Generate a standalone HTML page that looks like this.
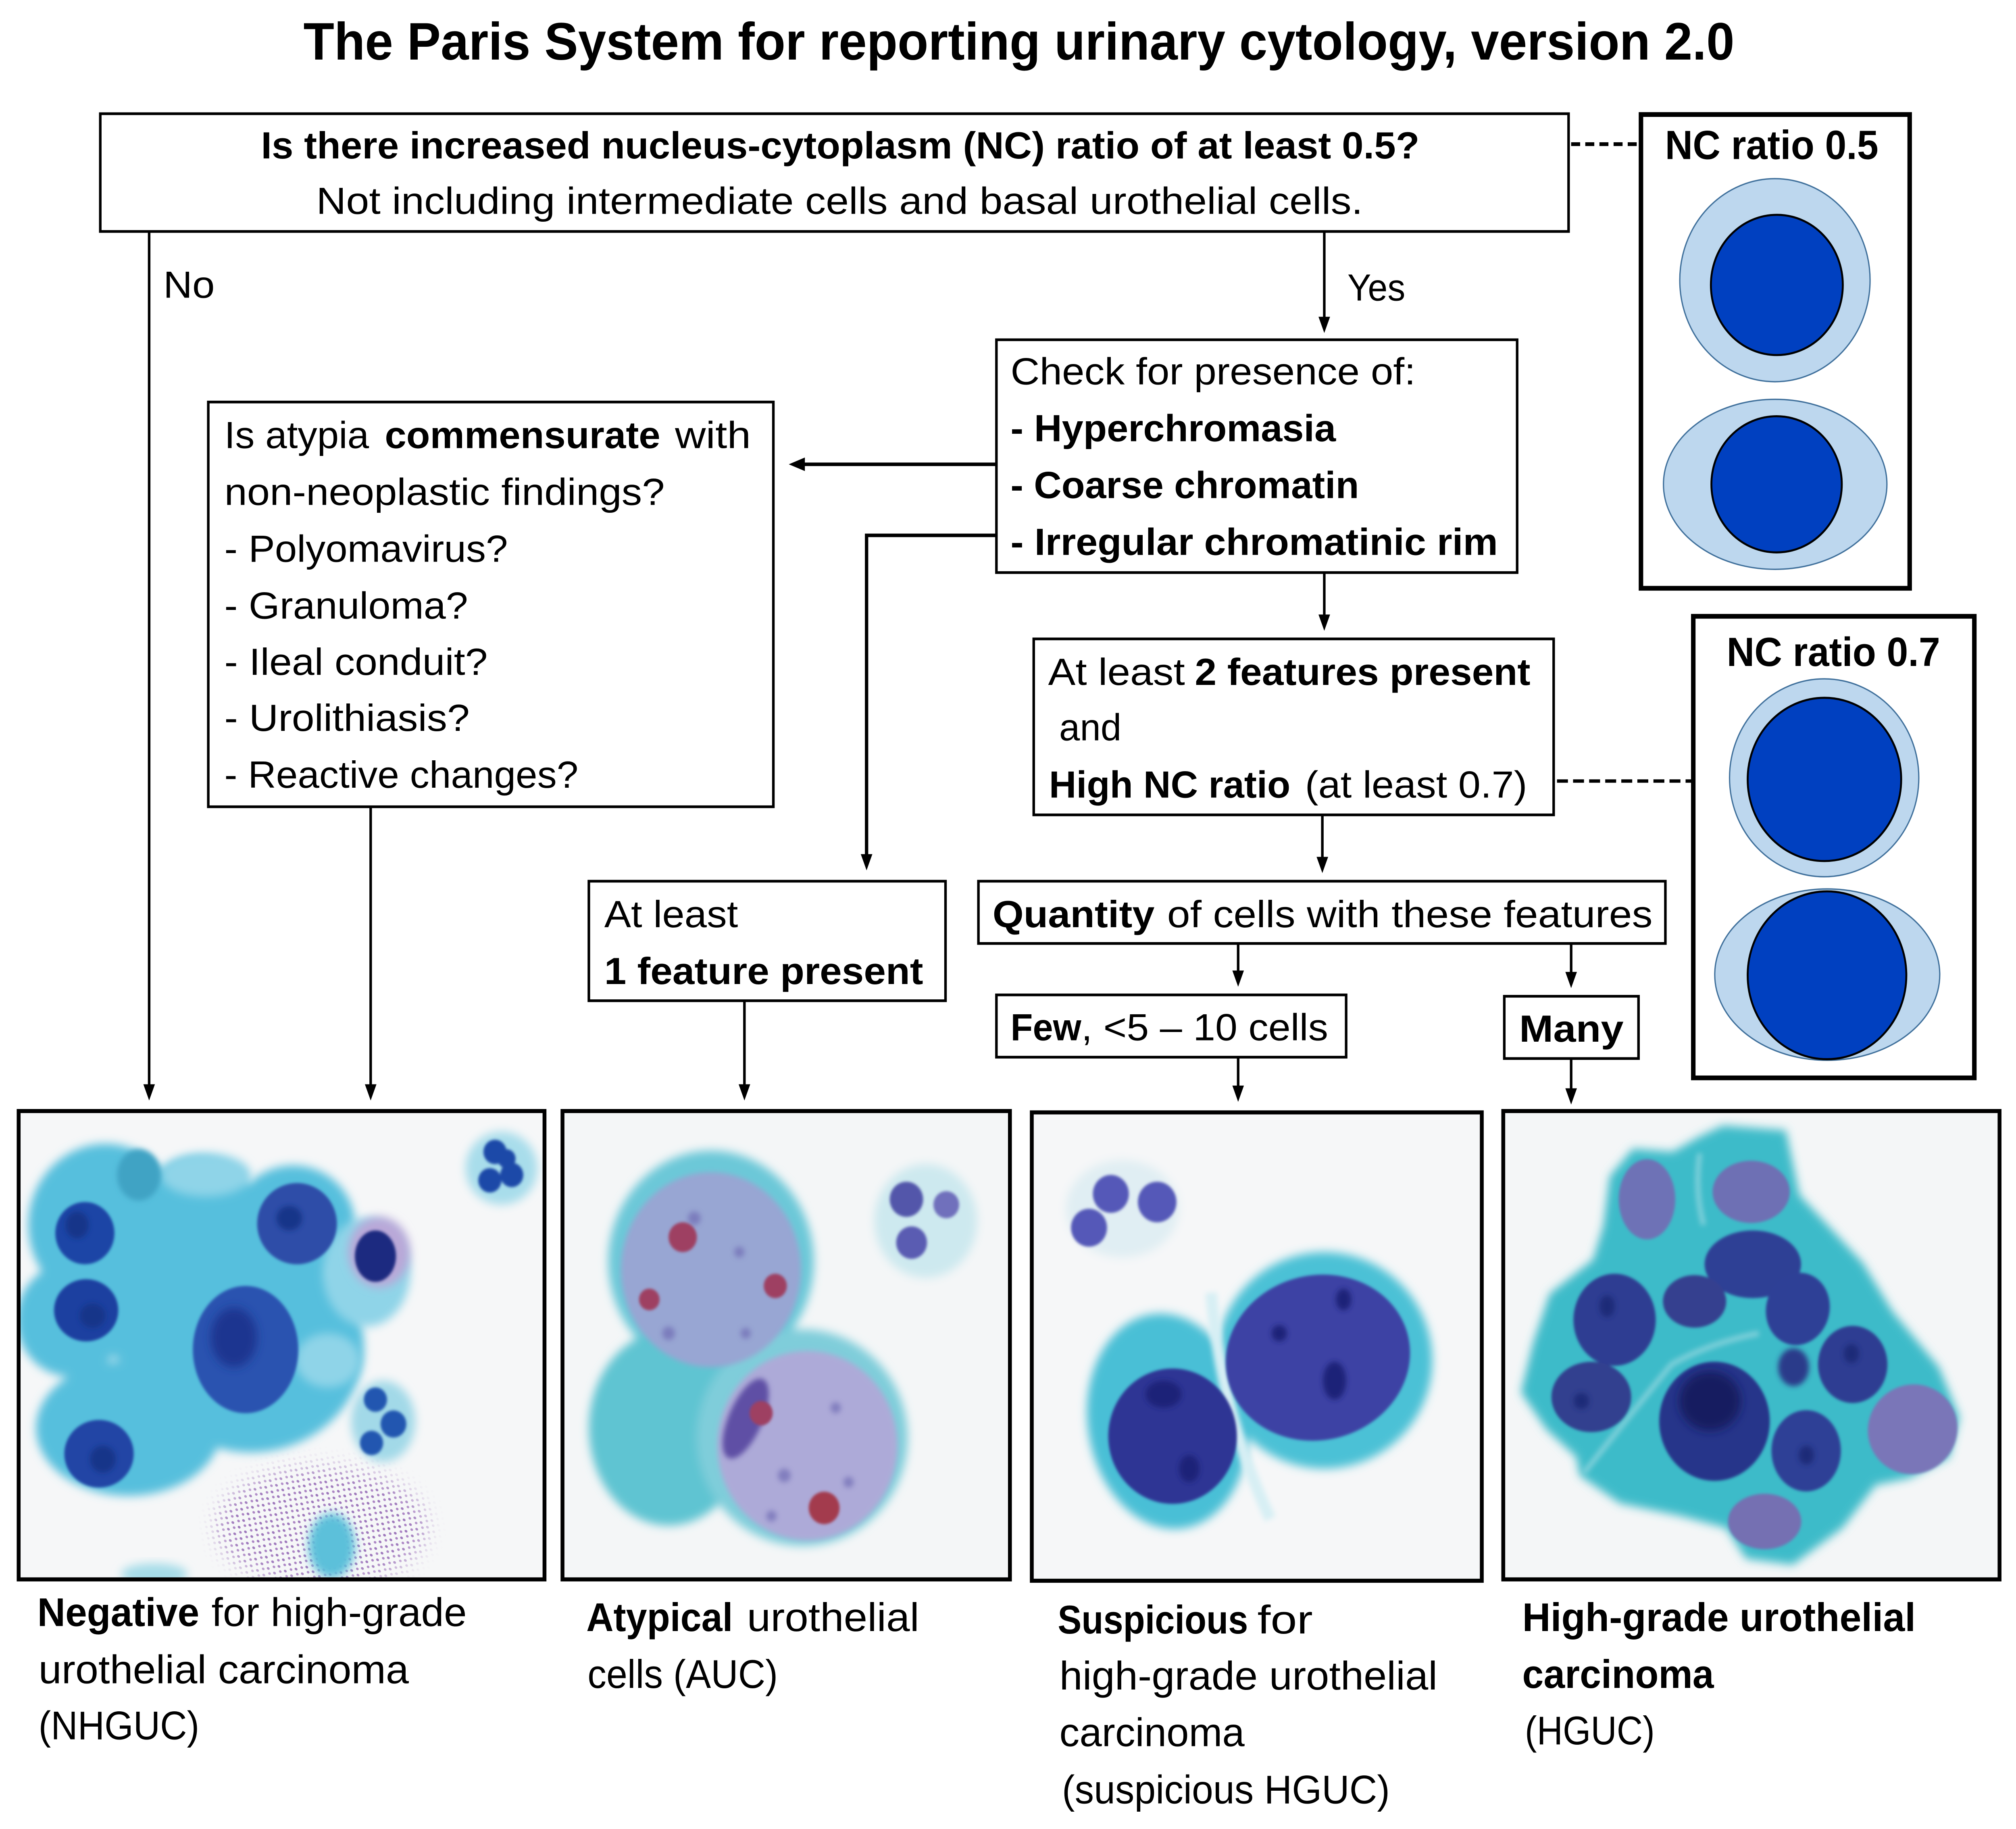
<!DOCTYPE html>
<html><head><meta charset="utf-8">
<style>html,body{margin:0;padding:0;background:#fff;width:100%;height:100%;overflow:hidden;}svg{display:block;width:100vw;height:100vh;}</style>
</head>
<body>
<svg xmlns="http://www.w3.org/2000/svg" viewBox="0 0 1568 1351.2" preserveAspectRatio="none" font-family="'Liberation Sans', Arial, sans-serif">
<defs>
<filter id="b1" x="-30%" y="-30%" width="160%" height="160%"><feGaussianBlur stdDeviation="1"/></filter>
<filter id="b2" x="-30%" y="-30%" width="160%" height="160%"><feGaussianBlur stdDeviation="2"/></filter>
<filter id="b3" x="-30%" y="-30%" width="160%" height="160%"><feGaussianBlur stdDeviation="3.5"/></filter>
<filter id="b6" x="-30%" y="-30%" width="160%" height="160%"><feGaussianBlur stdDeviation="7"/></filter>
<clipPath id="c1"><rect x="14.5" y="820.8" width="409" height="346"/></clipPath>
<clipPath id="c2"><rect x="437.5" y="820.8" width="348" height="346"/></clipPath>
<clipPath id="c3"><rect x="802.5" y="821.8" width="350" height="346"/></clipPath>
<clipPath id="c4"><rect x="1169.2" y="820.8" width="386" height="346"/></clipPath>
<pattern id="bac" width="6" height="6" patternUnits="userSpaceOnUse" patternTransform="rotate(35)">
 <ellipse cx="1.5" cy="1.5" rx="1.2" ry="0.9" fill="#8A5BAE"/>
 <ellipse cx="4.5" cy="4" rx="1.1" ry="0.9" fill="#9A6AB8"/>
</pattern>
<mask id="bm" maskUnits="userSpaceOnUse" x="140" y="1050" width="230" height="130">
 <rect x="140" y="1050" width="230" height="130" fill="#000"/>
 <ellipse cx="250" cy="1128" rx="82" ry="44" fill="#fff" filter="url(#b6)"/>
</mask>
</defs>

<rect x="0" y="0" width="1568" height="1351.2" fill="#fff"/>

<!-- Title -->
<text x="236" y="44" font-size="39" font-weight="bold" textLength="1113" lengthAdjust="spacingAndGlyphs">The Paris System for reporting urinary cytology, version 2.0</text>

<!-- Box 1 -->
<rect x="78" y="84" width="1142" height="87" fill="#fff" stroke="#000" stroke-width="2"/>
<text x="203" y="117" font-size="28" font-weight="bold" textLength="901" lengthAdjust="spacingAndGlyphs">Is there increased nucleus-cytoplasm (NC) ratio of at least 0.5?</text>
<text x="246" y="158" font-size="28" textLength="814" lengthAdjust="spacingAndGlyphs">Not including intermediate cells and basal urothelial cells.</text>

<!-- dashed to NC 0.5 -->
<line x1="1222" y1="106.5" x2="1275" y2="106.5" stroke="#000" stroke-width="2.8" stroke-dasharray="7,4"/>

<!-- NC ratio 0.5 box -->
<rect x="1276.3" y="84.6" width="209" height="350" fill="#fff" stroke="#000" stroke-width="3.5"/>
<text x="1295" y="117.5" font-size="30" font-weight="bold" textLength="166" lengthAdjust="spacingAndGlyphs">NC ratio 0.5</text>
<ellipse cx="1380.5" cy="207" rx="74" ry="75" fill="#BDD7EE" stroke="#41719C" stroke-width="1"/>
<ellipse cx="1382" cy="210.5" rx="51.3" ry="51.8" fill="#0040C0" stroke="#000" stroke-width="1.5"/>
<ellipse cx="1380.7" cy="357.8" rx="86.9" ry="62.8" fill="#BDD7EE" stroke="#41719C" stroke-width="1"/>
<ellipse cx="1381.8" cy="357.8" rx="50.7" ry="50.3" fill="#0040C0" stroke="#000" stroke-width="1.5"/>

<!-- NC ratio 0.7 box -->
<rect x="1317" y="455.3" width="218.6" height="341" fill="#fff" stroke="#000" stroke-width="3.5"/>
<text x="1343" y="492" font-size="30" font-weight="bold" textLength="166" lengthAdjust="spacingAndGlyphs">NC ratio 0.7</text>
<ellipse cx="1418.8" cy="574.6" rx="73.6" ry="73.1" fill="#BDD7EE" stroke="#41719C" stroke-width="1"/>
<ellipse cx="1419" cy="575.8" rx="59.7" ry="60.3" fill="#0040C0" stroke="#000" stroke-width="1.5"/>
<ellipse cx="1421.2" cy="720" rx="87.5" ry="63.3" fill="#BDD7EE" stroke="#41719C" stroke-width="1"/>
<ellipse cx="1421" cy="720.5" rx="61.7" ry="62" fill="#0040C0" stroke="#000" stroke-width="1.5"/>

<!-- dashed to NC 0.7 -->
<line x1="1211" y1="577" x2="1316" y2="577" stroke="#000" stroke-width="2.5" stroke-dasharray="8.5,4"/>

<!-- No / Yes labels -->
<text x="127" y="220" font-size="28" textLength="40" lengthAdjust="spacingAndGlyphs">No</text>
<text x="1048" y="222" font-size="28" textLength="45" lengthAdjust="spacingAndGlyphs">Yes</text>

<!-- Check box -->
<rect x="775" y="251" width="405" height="172" fill="#fff" stroke="#000" stroke-width="2"/>
<text x="786" y="284" font-size="28" textLength="315" lengthAdjust="spacingAndGlyphs">Check for presence of:</text>
<text x="786" y="326" font-size="28" font-weight="bold" textLength="253" lengthAdjust="spacingAndGlyphs">- Hyperchromasia</text>
<text x="786" y="368" font-size="28" font-weight="bold" textLength="271" lengthAdjust="spacingAndGlyphs">- Coarse chromatin</text>
<text x="786" y="410" font-size="28" font-weight="bold" textLength="379" lengthAdjust="spacingAndGlyphs">- Irregular chromatinic rim</text>

<!-- Atypia box -->
<rect x="162" y="297" width="439.5" height="299" fill="#fff" stroke="#000" stroke-width="2"/>
<text x="174.5" y="331" font-size="28" textLength="112.5" lengthAdjust="spacingAndGlyphs">Is atypia</text>
<text x="299.3" y="331" font-size="28" font-weight="bold" textLength="214.3" lengthAdjust="spacingAndGlyphs">commensurate</text>
<text x="525" y="331" font-size="28" textLength="59" lengthAdjust="spacingAndGlyphs">with</text>
<text x="174.5" y="373" font-size="28" textLength="342.5" lengthAdjust="spacingAndGlyphs">non-neoplastic findings?</text>
<text x="174.5" y="415" font-size="28" textLength="220.5" lengthAdjust="spacingAndGlyphs">- Polyomavirus?</text>
<text x="174.5" y="457" font-size="28" textLength="189.5" lengthAdjust="spacingAndGlyphs">- Granuloma?</text>
<text x="174.5" y="498.5" font-size="28" textLength="204.8" lengthAdjust="spacingAndGlyphs">- Ileal conduit?</text>
<text x="174.5" y="540" font-size="28" textLength="190.8" lengthAdjust="spacingAndGlyphs">- Urolithiasis?</text>
<text x="174.5" y="582" font-size="28" textLength="275.3" lengthAdjust="spacingAndGlyphs">- Reactive changes?</text>

<!-- 2 features box -->
<rect x="804" y="472" width="404.4" height="130" fill="#fff" stroke="#000" stroke-width="2"/>
<text x="815.2" y="506" font-size="28" textLength="106.4" lengthAdjust="spacingAndGlyphs">At least</text>
<text x="929.3" y="506" font-size="28" font-weight="bold" textLength="261" lengthAdjust="spacingAndGlyphs">2 features present</text>
<text x="823.8" y="547" font-size="28" textLength="48.4" lengthAdjust="spacingAndGlyphs">and</text>
<text x="815.9" y="589.3" font-size="28" font-weight="bold" textLength="187.7" lengthAdjust="spacingAndGlyphs">High NC ratio</text>
<text x="1015" y="589.3" font-size="28" textLength="172.8" lengthAdjust="spacingAndGlyphs">(at least 0.7)</text>

<!-- At least 1 feature box -->
<rect x="458" y="651" width="277.4" height="88.3" fill="#fff" stroke="#000" stroke-width="2"/>
<text x="470" y="685" font-size="28" textLength="104" lengthAdjust="spacingAndGlyphs">At least</text>
<text x="470" y="727" font-size="28" font-weight="bold" textLength="248" lengthAdjust="spacingAndGlyphs">1 feature present</text>

<!-- Quantity box -->
<rect x="761" y="651" width="534.3" height="46" fill="#fff" stroke="#000" stroke-width="2"/>
<text x="772" y="685" font-size="28" font-weight="bold" textLength="126" lengthAdjust="spacingAndGlyphs">Quantity</text>
<text x="907.8" y="685" font-size="28" textLength="377.5" lengthAdjust="spacingAndGlyphs">of cells with these features</text>

<!-- Few box -->
<rect x="775" y="735" width="272" height="46" fill="#fff" stroke="#000" stroke-width="2"/>
<text x="786" y="768.5" font-size="28" font-weight="bold" textLength="55" lengthAdjust="spacingAndGlyphs">Few</text>
<text x="841" y="768.5" font-size="28" textLength="192" lengthAdjust="spacingAndGlyphs">, &lt;5 – 10 cells</text>

<!-- Many box -->
<rect x="1170" y="736" width="104.4" height="46" fill="#fff" stroke="#000" stroke-width="2"/>
<text x="1181.6" y="769.6" font-size="28" font-weight="bold" textLength="81.2" lengthAdjust="spacingAndGlyphs">Many</text>

<!-- Connectors -->
<g stroke="#000" stroke-width="2" fill="none">
 <line x1="116" y1="171" x2="116" y2="803"/>
 <line x1="288.3" y1="596" x2="288.3" y2="803"/>
 <line x1="579" y1="739" x2="579" y2="803"/>
 <line x1="963" y1="781" x2="963" y2="804"/>
 <line x1="1222" y1="782" x2="1222" y2="806"/>
 <line x1="1030" y1="171" x2="1030" y2="236"/>
 <line x1="1030" y1="423" x2="1030" y2="456"/>
 <line x1="1028.5" y1="602" x2="1028.5" y2="635"/>
 <line x1="963" y1="697" x2="963" y2="719"/>
 <line x1="1222" y1="697" x2="1222" y2="720"/>
 <line x1="775" y1="343" x2="624" y2="343" stroke-width="2.6"/>
 <polyline points="775,395.5 674,395.5 674,633" stroke-width="2.6"/>
</g>
<g fill="#000">
 <polygon points="111.5,801 120.5,801 116,813"/>
 <polygon points="283.8,801 292.8,801 288.3,813"/>
 <polygon points="574.5,801 583.5,801 579,813"/>
 <polygon points="958.5,802 967.5,802 963,814"/>
 <polygon points="1217.5,804 1226.5,804 1222,816"/>
 <polygon points="1025.5,234 1034.5,234 1030,246"/>
 <polygon points="1025.5,454 1034.5,454 1030,466"/>
 <polygon points="1024,633 1033,633 1028.5,645"/>
 <polygon points="958.5,717 967.5,717 963,729"/>
 <polygon points="1217.5,718 1226.5,718 1222,730"/>
 <polygon points="626,338 626,348 613.5,343"/>
 <polygon points="669.5,631 678.5,631 674,643"/>
</g>

<!-- ===== Photo 1 (Negative) ===== -->
<g clip-path="url(#c1)">
 <rect x="14" y="820" width="411" height="348" fill="#F6F7F8"/>
 <g filter="url(#b3)" fill="#56BFDD">
  <ellipse cx="82" cy="905" rx="60" ry="60"/>
  <ellipse cx="55" cy="975" rx="42" ry="42"/>
  <ellipse cx="195" cy="995" rx="88" ry="78"/>
  <ellipse cx="100" cy="1055" rx="72" ry="50"/>
  <ellipse cx="228" cy="905" rx="48" ry="44"/>
  <ellipse cx="155" cy="895" rx="45" ry="40"/>
  <ellipse cx="120" cy="960" rx="60" ry="50"/>
 </g>
 <g filter="url(#b3)" fill="#8FD4E8">
  <ellipse cx="285" cy="940" rx="34" ry="40"/>
  <ellipse cx="160" cy="868" rx="35" ry="16"/>
  <ellipse cx="255" cy="1005" rx="25" ry="20"/>
 </g>
 <ellipse cx="108" cy="868" rx="17" ry="19" fill="#3FA3C4" filter="url(#b2)"/>
 <ellipse cx="295" cy="925" rx="24" ry="26" fill="#B9A8D8" filter="url(#b3)"/>
 <g filter="url(#b1)">
  <ellipse cx="66" cy="911" rx="23" ry="23" fill="#1F45A6"/>
  <ellipse cx="67" cy="968" rx="25" ry="23" fill="#1E40A0"/>
  <ellipse cx="77" cy="1074" rx="27" ry="25" fill="#2045A5"/>
  <ellipse cx="191" cy="997" rx="41" ry="47" fill="#2A52B0"/>
  <ellipse cx="231" cy="904" rx="31" ry="30" fill="#2D4DA8"/>
 </g>
 <g fill="#173589" filter="url(#b2)">
  <ellipse cx="60" cy="905" rx="9" ry="10"/>
  <ellipse cx="72" cy="972" rx="10" ry="9"/>
  <ellipse cx="80" cy="1078" rx="10" ry="10"/>
  <ellipse cx="225" cy="900" rx="10" ry="9"/>
 </g>
 <ellipse cx="182" cy="988" rx="18" ry="22" fill="#1A3690" filter="url(#b3)"/>
 <ellipse cx="292" cy="928" rx="16" ry="19" fill="#1C2B80" filter="url(#b1)"/>
 <ellipse cx="390" cy="863" rx="28" ry="27" fill="#A8DDEB" filter="url(#b3)"/>
 <g fill="#1F4AA8" filter="url(#b1)">
  <circle cx="385" cy="851" r="9"/><circle cx="381" cy="872" r="9"/><circle cx="398" cy="868" r="9"/><circle cx="394" cy="856" r="7"/>
 </g>
 <ellipse cx="298" cy="1050" rx="25" ry="30" fill="#A2D9E8" filter="url(#b3)"/>
 <g fill="#2356B0" filter="url(#b1)">
  <circle cx="292" cy="1034" r="9"/><circle cx="306" cy="1052" r="10"/><circle cx="289" cy="1066" r="9"/>
 </g>
 <rect x="140" y="1050" width="230" height="130" fill="url(#bac)" mask="url(#bm)" opacity="0.8"/>
 <ellipse cx="258" cy="1142" rx="18" ry="24" fill="#5BC0DA" filter="url(#b3)"/>
 <ellipse cx="120" cy="1163" rx="26" ry="8" fill="#A5DCE8" filter="url(#b3)"/>
</g>
<rect x="14.5" y="820.8" width="409" height="346" fill="none" stroke="#000" stroke-width="3"/>

<!-- ===== Photo 2 (Atypical) ===== -->
<g clip-path="url(#c2)">
 <rect x="437" y="820" width="350" height="348" fill="#F4F6F7"/>
 <g filter="url(#b3)">
  <ellipse cx="553" cy="932" rx="80" ry="82" fill="#6CC8D8"/>
  <ellipse cx="520" cy="1055" rx="62" ry="72" fill="#5EC4D2"/>
  <ellipse cx="624" cy="1062" rx="82" ry="80" fill="#7FCDDA"/>
  <ellipse cx="720" cy="902" rx="40" ry="42" fill="#CDE9EF"/>
 </g>
 <g filter="url(#b2)">
  <ellipse cx="553" cy="938" rx="70" ry="72" fill="#98A6D3"/>
  <ellipse cx="628" cy="1068" rx="70" ry="70" fill="#ADAAD8"/>
 </g>
 <g fill="#6F6CB4" filter="url(#b2)" opacity="0.7">
  <circle cx="540" cy="900" r="5"/><circle cx="575" cy="925" r="4"/><circle cx="520" cy="985" r="5"/><circle cx="580" cy="985" r="4"/>
  <circle cx="610" cy="1090" r="5"/><circle cx="650" cy="1040" r="4"/><circle cx="660" cy="1095" r="4"/><circle cx="600" cy="1120" r="4"/>
 </g>
 <ellipse cx="580" cy="1048" rx="13" ry="32" transform="rotate(25 580 1048)" fill="#5E4FA5" filter="url(#b2)"/>
 <g fill="#9E3F62" filter="url(#b1)">
  <circle cx="531" cy="914" r="11"/><circle cx="603" cy="950" r="9"/><circle cx="505" cy="960" r="8"/><circle cx="592" cy="1044" r="9"/>
  <circle cx="641" cy="1114" r="12" fill="#A33A4E"/>
 </g>
 <g filter="url(#b1)">
  <circle cx="705" cy="886" r="13" fill="#5256AA"/><circle cx="736" cy="890" r="10" fill="#7070BC"/><circle cx="709" cy="918" r="12" fill="#5A5CB2"/>
 </g>
</g>
<rect x="437.5" y="820.8" width="348" height="346" fill="none" stroke="#000" stroke-width="3"/>

<!-- ===== Photo 3 (Suspicious) ===== -->
<g clip-path="url(#c3)">
 <rect x="802" y="821" width="352" height="348" fill="#F6F7F8"/>
 <ellipse cx="873" cy="893" rx="44" ry="36" fill="#E0EEF3" filter="url(#b3)"/>
 <g fill="#5558B8" filter="url(#b1)">
  <circle cx="864" cy="882" r="14"/><circle cx="900" cy="888" r="15"/><circle cx="847" cy="907" r="14"/>
 </g>
 <g filter="url(#b3)">
  <ellipse cx="908" cy="1050" rx="62" ry="80" transform="rotate(-10 908 1050)" fill="#49BFD6"/>
  <ellipse cx="1030" cy="1005" rx="84" ry="80" fill="#4CC1D6"/>
 </g>
 <path d="M942 955 Q 950 1045 988 1122" stroke="#D7EFF4" stroke-width="9" fill="none" filter="url(#b2)"/>
 <g filter="url(#b1)">
  <ellipse cx="912" cy="1061" rx="50" ry="50" transform="rotate(-15 912 1061)" fill="#2E3494"/>
  <ellipse cx="1025" cy="1003" rx="72" ry="61" transform="rotate(-10 1025 1003)" fill="#3C43A4"/>
 </g>
 <g fill="#1E2378" filter="url(#b2)">
  <ellipse cx="1038" cy="1020" rx="9" ry="14"/><ellipse cx="1045" cy="960" rx="6" ry="8"/><ellipse cx="905" cy="1030" rx="14" ry="10"/>
  <ellipse cx="925" cy="1085" rx="8" ry="10"/><ellipse cx="995" cy="985" rx="6" ry="6"/>
 </g>
</g>
<rect x="802.5" y="821.8" width="350" height="346" fill="none" stroke="#000" stroke-width="3"/>

<!-- ===== Photo 4 (HGUC) ===== -->
<g clip-path="url(#c4)">
 <rect x="1169" y="820" width="388" height="348" fill="#F4F6F7"/>
 <path d="M1340 831.5 L1389 835 L1399.6 882.8 L1448.8 933 L1472 969 L1508 1010 L1524 1047 L1516 1076.5 L1485 1092 L1459 1097 L1433 1128.8 L1394.4 1156 L1358 1151.6 L1342.6 1128.8 L1306 1119.7 L1260 1110.6 L1228.6 1090 L1226 1076.4 L1202.7 1056 L1183 1028.6 L1192.4 992 L1205.3 955.7 L1239 930.6 L1247 905.6 L1252 869 L1270 848.6 L1301 850.9 L1322 839.5 Z" fill="#3DBBC9" filter="url(#b3)"/>
 <g stroke="#8FD6DF" stroke-width="4" fill="none" filter="url(#b2)" opacity="0.8">
  <path d="M1322 852 Q1318 880 1325 905"/>
  <path d="M1232 1088 Q1268 1045 1300 1008 Q1330 992 1368 985"/>
 </g>
 <g filter="url(#b1)">
  <ellipse cx="1281" cy="886" rx="22" ry="29.6" fill="#6E72B6"/>
  <ellipse cx="1362" cy="880.5" rx="30" ry="23" fill="#6E70B4"/>
  <ellipse cx="1363.3" cy="934" rx="37.5" ry="25" fill="#2F3F95"/>
  <ellipse cx="1255.8" cy="975" rx="32" ry="34" fill="#2E3E92"/>
  <ellipse cx="1318" cy="961.4" rx="24.6" ry="19.4" fill="#34418F"/>
  <ellipse cx="1398.3" cy="967" rx="24.6" ry="27" transform="rotate(20 1398.3 967)" fill="#2F4096"/>
  <ellipse cx="1441" cy="1008" rx="27" ry="28.5" fill="#2E3E92"/>
  <ellipse cx="1237.7" cy="1032" rx="31" ry="26" fill="#33408F"/>
  <ellipse cx="1333.5" cy="1050" rx="43" ry="44" fill="#27358A"/>
  <ellipse cx="1404.8" cy="1071.8" rx="27" ry="30" fill="#2F4096"/>
  <ellipse cx="1487.6" cy="1055.9" rx="35" ry="33" transform="rotate(-15 1487.6 1055.9)" fill="#7A76B8"/>
  <ellipse cx="1372.5" cy="1124" rx="28.5" ry="20.5" fill="#7470B2"/>
 </g>
 <ellipse cx="1330" cy="1035" rx="24" ry="22" fill="#141C60" filter="url(#b3)"/>
 <ellipse cx="1395" cy="1010" rx="12" ry="14" fill="#2A3A8A" filter="url(#b2)"/>
 <g fill="#1E2A78" filter="url(#b2)">
  <ellipse cx="1250" cy="965" rx="6" ry="8"/><ellipse cx="1230" cy="1035" rx="6" ry="6"/><ellipse cx="1440" cy="1000" rx="6" ry="7"/><ellipse cx="1405" cy="1075" rx="6" ry="7"/>
 </g>
</g>
<rect x="1169.2" y="820.8" width="386" height="346" fill="none" stroke="#000" stroke-width="3"/>

<!-- Bottom labels -->
<g font-size="29.5">
 <text x="29" y="1201.3" font-weight="bold" textLength="126" lengthAdjust="spacingAndGlyphs">Negative</text>
 <text x="164.5" y="1201.3" textLength="198.5" lengthAdjust="spacingAndGlyphs">for high-grade</text>
 <text x="30" y="1243.5" textLength="288" lengthAdjust="spacingAndGlyphs">urothelial carcinoma</text>
 <text x="30" y="1285" textLength="125" lengthAdjust="spacingAndGlyphs">(NHGUC)</text>

 <text x="456" y="1205" font-weight="bold" textLength="114" lengthAdjust="spacingAndGlyphs">Atypical</text>
 <text x="581" y="1205" textLength="134" lengthAdjust="spacingAndGlyphs">urothelial</text>
 <text x="457" y="1247" textLength="148" lengthAdjust="spacingAndGlyphs">cells (AUC)</text>

 <text x="822.7" y="1206.7" font-weight="bold" textLength="148" lengthAdjust="spacingAndGlyphs">Suspicious</text>
 <text x="978" y="1206.7" textLength="43" lengthAdjust="spacingAndGlyphs">for</text>
 <text x="824" y="1248.2" textLength="294" lengthAdjust="spacingAndGlyphs">high-grade urothelial</text>
 <text x="824" y="1290" textLength="144" lengthAdjust="spacingAndGlyphs">carcinoma</text>
 <text x="826" y="1332.3" textLength="255" lengthAdjust="spacingAndGlyphs">(suspicious HGUC)</text>

 <text x="1184" y="1205" font-weight="bold" textLength="306" lengthAdjust="spacingAndGlyphs">High-grade urothelial</text>
 <text x="1184" y="1247" font-weight="bold" textLength="149" lengthAdjust="spacingAndGlyphs">carcinoma</text>
 <text x="1186" y="1288.7" textLength="101" lengthAdjust="spacingAndGlyphs">(HGUC)</text>
</g>
</svg>
</body></html>
